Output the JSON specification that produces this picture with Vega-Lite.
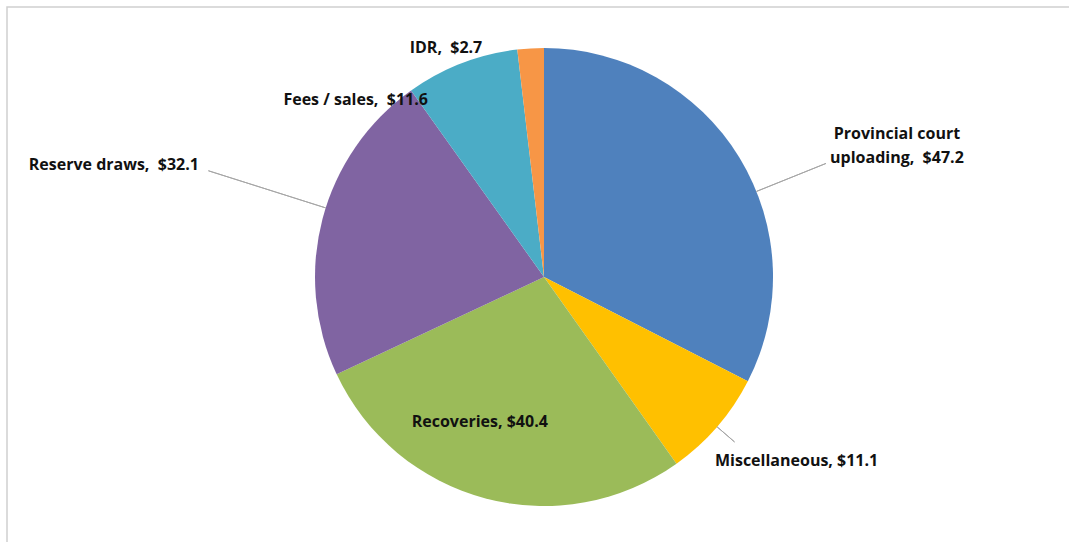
{
  "$schema": "https://vega.github.io/schema/vega-lite/v6.json",
  "width": 1069,
  "height": 542,
  "autosize": {"type": "fit", "contains": "padding"},
  "padding": {"left": 7, "top": 7, "right": -12, "bottom": -5},
  "background": "white",
  "view": {"stroke": "#d0d0d0", "strokeWidth": 1.5},
  "data": {
    "values": [
      {"category": "Provincial court uploading", "label": "Provincial court\nuploading,\u00a0 $47.2", "value": 47.2, "rank": 1},
      {"category": "Miscellaneous", "label": "Miscellaneous, $11.1", "value": 11.1, "rank": 2},
      {"category": "Recoveries", "label": "Recoveries, $40.4", "value": 40.4, "rank": 3},
      {"category": "Reserve draws", "label": "Reserve draws,\u00a0 $32.1", "value": 32.1, "rank": 4},
      {"category": "Fees / sales", "label": "Fees / sales,\u00a0 $11.6", "value": 11.6, "rank": 5},
      {"category": "IDR", "label": "IDR,\u00a0 $2.7", "value": 2.7, "rank": 6}
    ]
  },
  "transform": [
    {"stack": "value", "groupby": [], "sort": [{"field": "rank", "order": "ascending"}], "as": ["v0", "v1"]},
    {"joinaggregate": [{"op": "sum", "field": "value", "as": "total"}]},
    {"calculate": "datum.v0 / datum.total", "as": "f0"},
    {"calculate": "datum.v1 / datum.total", "as": "f1"},
    {"calculate": "(datum.f0 + datum.f1) / 2", "as": "fmid"}
  ],
  "layer": [
    {
      "mark": {"type": "arc", "outerRadius": 229},
      "encoding": {
        "theta": {"field": "f0", "type": "quantitative", "scale": {"domain": [0, 1]}},
        "theta2": {"field": "f1"},
        "color": {
          "field": "category",
          "type": "nominal",
          "scale": {
            "domain": ["Provincial court uploading", "Miscellaneous", "Recoveries", "Reserve draws", "Fees / sales", "IDR"],
            "range": ["#4f81bd", "#ffc000", "#9bbb59", "#8064a2", "#4bacc6", "#f79646"]
          },
          "legend": null
        }
      }
    },
    {
      "transform": [{"filter": "datum.rank == 4"}],
      "mark": {"type": "arc", "innerRadius": 229, "outerRadius": 352, "thetaOffset": 0.05, "theta2Offset": 0.05, "fill": null, "fillOpacity": 0, "stroke": "#a6a6a6", "strokeWidth": 1},
      "encoding": {"theta": {"field": "fmid", "type": "quantitative"}, "theta2": {"field": "fmid"}}
    },
    {
      "transform": [{"filter": "datum.rank == 2"}],
      "mark": {"type": "arc", "innerRadius": 229, "outerRadius": 252, "fill": null, "fillOpacity": 0, "stroke": "#a6a6a6", "strokeWidth": 1},
      "encoding": {"theta": {"field": "fmid", "type": "quantitative"}, "theta2": {"field": "fmid"}}
    },
    {
      "transform": [{"filter": "datum.rank == 1"}],
      "mark": {"type": "arc", "innerRadius": 229, "outerRadius": 304, "thetaOffset": 0.166, "theta2Offset": 0.166, "fill": null, "fillOpacity": 0, "stroke": "#a6a6a6", "strokeWidth": 1},
      "encoding": {"theta": {"field": "fmid", "type": "quantitative"}, "theta2": {"field": "fmid"}}
    },
    {
      "transform": [{"filter": "datum.rank == 1"}],
      "mark": {"type": "text", "radius": 300, "dx": 97, "dy": 14, "font": "Open Sans", "fontWeight": "bold", "fontSize": 16, "lineBreak": "\n", "lineHeight": 24, "align": "center", "baseline": "middle", "color": "#111111"},
      "encoding": {"theta": {"field": "fmid", "type": "quantitative"}, "text": {"field": "label"}}
    },
    {
      "transform": [{"filter": "datum.rank == 2"}],
      "mark": {"type": "text", "radius": 260, "dx": 56, "dy": 14, "font": "Open Sans", "fontWeight": "bold", "fontSize": 16, "align": "center", "baseline": "middle", "color": "#111111"},
      "encoding": {"theta": {"field": "fmid", "type": "quantitative"}, "text": {"field": "label"}}
    },
    {
      "transform": [{"filter": "datum.rank == 3"}],
      "mark": {"type": "text", "radius": 150, "dx": -26, "dy": 0, "font": "Open Sans", "fontWeight": "bold", "fontSize": 16, "align": "center", "baseline": "middle", "color": "#111111"},
      "encoding": {"theta": {"field": "fmid", "type": "quantitative"}, "text": {"field": "label"}}
    },
    {
      "transform": [{"filter": "datum.rank == 4"}],
      "mark": {"type": "text", "radius": 300, "dx": -140, "dy": -36, "font": "Open Sans", "fontWeight": "bold", "fontSize": 16, "align": "center", "baseline": "middle", "color": "#111111"},
      "encoding": {"theta": {"field": "fmid", "type": "quantitative"}, "text": {"field": "label"}}
    },
    {
      "transform": [{"filter": "datum.rank == 5"}],
      "mark": {"type": "text", "radius": 240, "dx": -102, "dy": 47, "font": "Open Sans", "fontWeight": "bold", "fontSize": 16, "align": "center", "baseline": "middle", "color": "#111111"},
      "encoding": {"theta": {"field": "fmid", "type": "quantitative"}, "text": {"field": "label"}}
    },
    {
      "transform": [{"filter": "datum.rank == 6"}],
      "mark": {"type": "text", "radius": 240, "dx": -84, "dy": 11, "font": "Open Sans", "fontWeight": "bold", "fontSize": 16, "align": "center", "baseline": "middle", "color": "#111111"},
      "encoding": {"theta": {"field": "fmid", "type": "quantitative"}, "text": {"field": "label"}}
    }
  ]
}
